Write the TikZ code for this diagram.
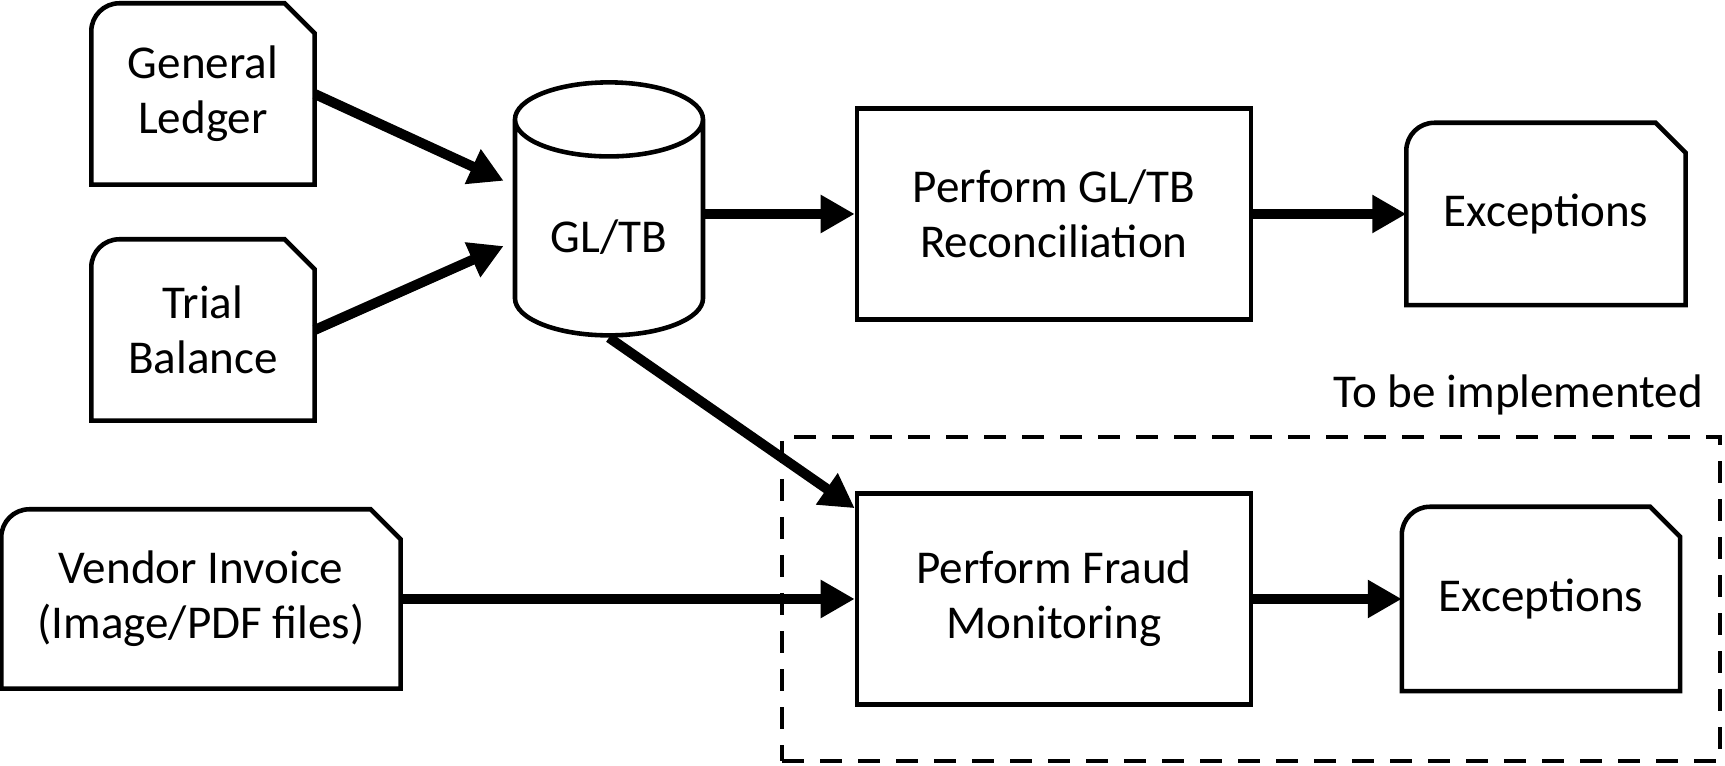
\documentclass[tikz,border=0pt]{standalone}
\usepackage{fontspec}
\setmainfont{Carlito}
\usetikzlibrary{arrows.meta,shapes.geometric}

\begin{document}
\begin{tikzpicture}[font=\fontsize{13.4pt}{15.6pt}\selectfont]

  \tikzstyle{doc}=[align=center,inner sep=0pt]

  \tikzstyle{process}=[rectangle,draw,line width=1.3pt,align=center,
    minimum width=3.94cm,minimum height=2.11cm]

  \tikzstyle{store}=[cylinder,shape border rotate=90,draw,line width=1.3pt,
    aspect=0.53,minimum width=1.88cm,minimum height=2.53cm]

  \tikzstyle{docline}=[line width=1.3pt]

  \tikzstyle{zone}=[draw,line width=1.3pt,dash pattern=on 0.22cm off 0.16cm,
    minimum width=9.38cm,minimum height=3.24cm]

  \useasboundingbox (0,0) rectangle (17.25,7.66);

  \node  (gl)     at (2.03,6.72)   [doc,minimum width=2.22cm,minimum height=1.80cm]
         {General\\Ledger};
  \node  (tb)     at (2.03,4.36)   [doc,minimum width=2.22cm,minimum height=1.80cm]
         {Trial\\Balance};
  \node  (vendor) at (2.01,1.67)   [doc,minimum width=3.98cm,minimum height=1.78cm]
         {Vendor Invoice\\(Image/PDF files)};

  \node  (gltb)   at (6.09,5.285)  [store]      {GL/TB};

  \node  (recon)  at (10.54,5.52)  [process]    {Perform GL/TB\\Reconciliation};
  \node  (fraud)  at (10.54,1.67)  [process]    {Perform Fraud\\Monitoring};

  \node  (exc1)   at (15.46,5.52)  [doc,minimum width=2.78cm,minimum height=1.81cm]
         {Exceptions};
  \node  (exc2)   at (15.41,1.67)  [doc,minimum width=2.77cm,minimum height=1.83cm]
         {Exceptions};

  \node  (impl)   at (12.51,1.67)  [zone]       {};
  \node  (todo)   at ([xshift=-0.07cm,yshift=0.27cm]impl.north east) [anchor=base east]
         {To be implemented};

  %% document outlines: rounded top left, cut top right
  \foreach \n in {gl,tb,vendor,exc1,exc2}
    \draw [docline] (\n.south west) [rounded corners=0.28cm] |- (\n.north)
          [sharp corners] -- ([xshift=-0.3cm]\n.north east)
          -- ([yshift=-0.3cm]\n.north east) -- (\n.south east) -- cycle;

  \tikzstyle{flow}=[-{Triangle[length=0.34cm,width=0.36cm]},line width=0.1cm]

  \path (gl.east)     edge [flow,shorten >=0.1cm] ([yshift=0.525cm]gltb.west)
        (tb.east)     edge [flow,shorten >=0.1cm] ([yshift=-0.045cm]gltb.west)
        (gltb.south)  edge [flow] ([yshift=-0.17cm]fraud.north west)
        (gltb.east |- recon.west) edge [flow] (recon.west)
        (recon)       edge [flow] (exc1)
        (vendor.east) edge [flow] (fraud.west)
        (fraud)       edge [flow] (exc2);

\end{tikzpicture}
\end{document}
